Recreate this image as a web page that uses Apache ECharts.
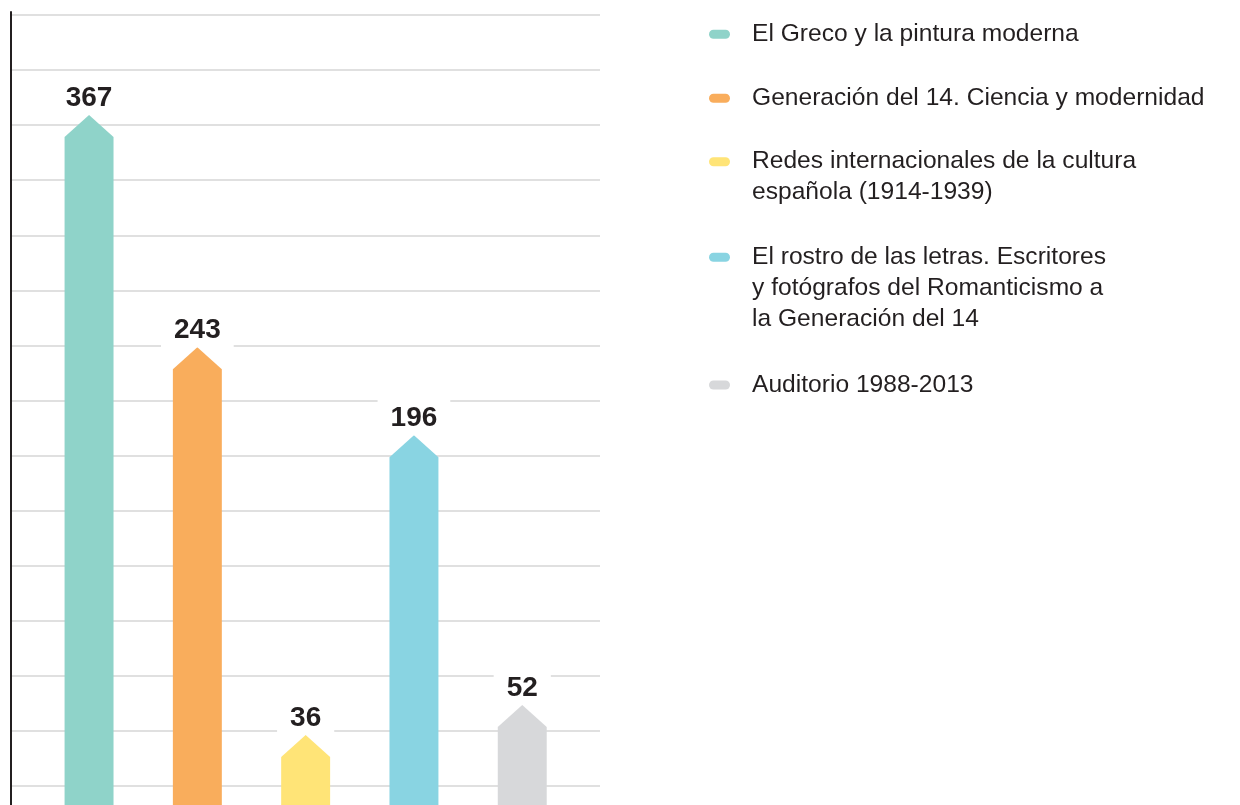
<!DOCTYPE html>
<html>
<head>
<meta charset="utf-8">
<script src="https://cdn.jsdelivr.net/npm/echarts@6/dist/echarts.min.js"></script>
<style>
  html, body { margin: 0; padding: 0; background: #fff; }
  #chart { width: 1240px; height: 805px; }
</style>
</head>
<body>
<div id="chart"></div>
<script>
// exposiciones y visitantes
const categories = [
  'El Greco y la pintura moderna',
  'Generación del 14. Ciencia y modernidad',
  'Redes internacionales de la cultura\nespañola (1914-1939)',
  'El rostro de las letras. Escritores\ny fotógrafos del Romanticismo a\nla Generación del 14',
  'Auditorio 1988-2013'
]
const values = [367, 243, 36, 196, 52]
const colors = ['#8fd3c9', '#f9ad5c', '#ffe477', '#89d4e2', '#d7d8da']

// layout: centre of each legend icon (px from top)
const legendIconY = [34.3, 98.3, 161.7, 257.3, 385]
const lineH = 31
const textColor = '#231f20'
const font = 'Liberation Sans'

// pill icon with empty room after it, so the text starts further right
const pillIcon = 'path://M38,9M4.5,0L16.5,0A4.5,4.5 0 0 1 16.5,9L4.5,9A4.5,4.5 0 0 1 4.5,0Z'

const renderArrowBar = (params, api) => {
  const idx = api.value(0)
  const val = api.value(1)
  const tip = api.coord([idx, val])
  const bottom = api.getHeight()
  const half = api.size([1, 0])[0] * 0.226
  const cap = 22
  return {
    type: 'polygon',
    shape: {
      points: [
        [tip[0] - half, bottom],
        [tip[0] - half, tip[1] + cap],
        [tip[0], tip[1]],
        [tip[0] + half, tip[1] + cap],
        [tip[0] + half, bottom]
      ]
    },
    style: { fill: api.visual('color') },
    textContent: {
      style: {
        text: String(val),
        fontSize: 28,
        fontWeight: 'bold',
        fontFamily: font,
        fill: textColor,
        lineHeight: 28,
        backgroundColor: '#fff',
        padding: [7, 13, 3, 13]
      }
    },
    textConfig: { position: 'top', distance: 0 }
  }
}

const series = categories.map((name, i) => ({
  name: name,
  type: 'custom',
  xAxisIndex: 1,
  yAxisIndex: 1,
  itemStyle: { color: colors[i] },
  renderItem: renderArrowBar,
  data: [[i, values[i]]],
  z: 3
}))

const legends = categories.map((name, i) => {
  const lines = name.split('\n').length
  const h = (2 * lines - 1) * lineH
  return {
    data: [name],
    orient: 'vertical',
    left: 709,
    top: legendIconY[i] - h / 2,
    padding: 0,
    icon: pillIcon,
    itemWidth: 38,
    itemHeight: 9,
    selectedMode: false,
    formatter: n => '\n'.repeat(lines - 1) + n,
    textStyle: {
      fontSize: 24.6,
      lineHeight: lineH,
      fontFamily: font,
      color: textColor
    }
  }
})

const chart = echarts.init(document.getElementById('chart'))

const option = {
  animation: false,
  backgroundColor: '#fff',
  legend: legends,
  grid: [
    // background gridlines
    { left: 12, right: 640, top: 15, bottom: 19 },
    // bars
    { left: 34.9, right: 663.6, top: 53.2, bottom: 2.6 },
    // left axis line
    { left: 11, right: 1228, top: 12, bottom: 0 }
  ],
  xAxis: [
    { type: 'value', gridIndex: 0, show: false },
    { type: 'category', gridIndex: 1, data: categories, show: false },
    { type: 'value', gridIndex: 2, show: false }
  ],
  yAxis: [
    {
      type: 'value',
      gridIndex: 0,
      min: 0,
      max: 14,
      interval: 1,
      axisLine: { show: false },
      axisTick: { show: false },
      axisLabel: { show: false },
      splitLine: { show: true, lineStyle: { color: '#d6d6d6', width: 1.5 } }
    },
    {
      type: 'value',
      gridIndex: 1,
      min: 0,
      max: 400,
      axisLine: { show: false },
      axisTick: { show: false },
      axisLabel: { show: false },
      splitLine: { show: false }
    },
    {
      type: 'value',
      gridIndex: 2,
      axisLine: { show: true, lineStyle: { color: textColor, width: 2 } },
      axisTick: { show: false },
      axisLabel: { show: false },
      splitLine: { show: false }
    }
  ],
  series: series
}

chart.setOption(option)
</script>
</body>
</html>
